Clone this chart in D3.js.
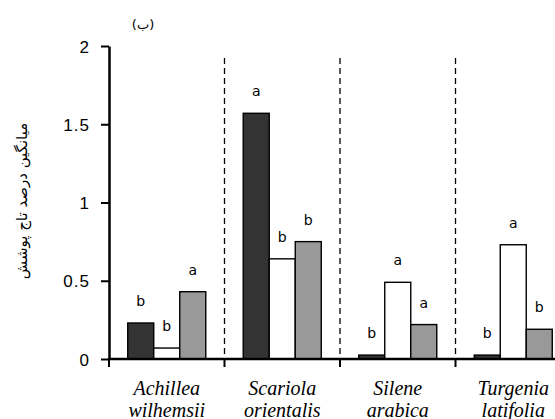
<!DOCTYPE html>
<html>
<head>
<meta charset="utf-8">
<script src="https://cdn.jsdelivr.net/npm/d3@7"></script>
<style>
  body { margin: 0; background: #fff; }
  svg { display: block; }
</style>
</head>
<body>
<div id="main"></div>
<script>
// data
const species = [
  ['Achillea', 'wilhemsii'],
  ['Scariola', 'orientalis'],
  ['Silene', 'arabica'],
  ['Turgenia', 'latifolia']
];
const series = ['s1', 's2', 's3'];
const s1Values = [0.23, 1.57, 0.025, 0.025];
const s2Values = [0.07, 0.64, 0.49, 0.73];
const s3Values = [0.43, 0.75, 0.22, 0.19];
const s1Letters = ['b', 'a', 'b', 'b'];
const s2Letters = ['b', 'b', 'a', 'a'];
const s3Letters = ['a', 'b', 'a', 'b'];
const yTicks = [0, 0.5, 1, 1.5, 2];
const yTickLabels = ['0', '0.5', '1', '1.5', '2'];
const yTitle = 'میانگین درصد تاج پوشش';
const panelTitle = '(ب)';

const W = 555;
const H = 419;
const PLOT = { left: 109, right: 571, top: 46, bottom: 359 };
const colors = { s1: '#333333', s2: '#ffffff', s3: '#999999' };

const svg = d3.select('#main').append('svg')
  .attr('width', W)
  .attr('height', H);

// scales
const x0 = d3.scaleBand()
  .domain(species.map((d) => d[0]))
  .range([PLOT.left, PLOT.right])
  .padding(0);

const x1 = d3.scaleBand()
  .domain(series)
  .range([0, x0.bandwidth()])
  .paddingInner(0)
  .paddingOuter(0.72);

const y = d3.scaleLinear()
  .domain([0, 2])
  .range([PLOT.bottom, PLOT.top]);

const values = { s1: s1Values, s2: s2Values, s3: s3Values };
const letters = { s1: s1Letters, s2: s2Letters, s3: s3Letters };

const records = [];
species.forEach((sp, i) => {
  series.forEach((s) => {
    records.push({ cat: sp[0], s, v: values[s][i], l: letters[s][i] });
  });
});

// dashed separators between species
const bounds = species.slice(1).map((d) => x0(d[0]));
svg.selectAll('.sep')
  .data(bounds)
  .enter()
  .append('line')
  .attr('class', 'sep')
  .attr('x1', (d) => d).attr('x2', (d) => d)
  .attr('y1', 58).attr('y2', PLOT.bottom)
  .attr('stroke', '#000')
  .attr('stroke-width', 1.3)
  .attr('stroke-dasharray', '6,4');

// bars
svg.selectAll('.bar')
  .data(records)
  .enter()
  .append('rect')
  .attr('class', 'bar')
  .attr('x', (d) => x0(d.cat) + x1(d.s))
  .attr('y', (d) => y(d.v))
  .attr('width', x1.bandwidth())
  .attr('height', (d) => y(0) - y(d.v))
  .attr('fill', (d) => colors[d.s])
  .attr('stroke', '#000')
  .attr('stroke-width', 1.4);

// significance letters
svg.selectAll('.letter')
  .data(records)
  .enter()
  .append('text')
  .attr('class', 'letter')
  .attr('x', (d) => x0(d.cat) + x1(d.s) + x1.bandwidth() / 2)
  .attr('y', (d) => y(d.v) - 17)
  .attr('text-anchor', 'middle')
  .style('font-family', 'DejaVu Sans, sans-serif')
  .style('font-size', '14px')
  .text((d) => d.l);

// y axis
const yAxis = svg.append('g')
  .attr('transform', `translate(${PLOT.left},0)`)
  .call(d3.axisLeft(y)
    .tickValues(yTicks)
    .tickFormat((d, i) => yTickLabels[i])
    .tickSize(8)
    .tickSizeOuter(0)
    .tickPadding(11));
yAxis.select('.domain').attr('stroke-width', 2.5);
yAxis.selectAll('.tick line').attr('stroke-width', 2);
yAxis.selectAll('.tick text')
  .style('font-family', 'Liberation Sans, Arial, sans-serif')
  .style('font-size', '17px')
  .style('letter-spacing', '1px')
  .attr('dy', '0.36em');

// x axis line and boundary ticks
svg.append('line')
  .attr('x1', PLOT.left - 1).attr('x2', W)
  .attr('y1', PLOT.bottom).attr('y2', PLOT.bottom)
  .attr('stroke', '#000')
  .attr('stroke-width', 2.5);

svg.selectAll('.xtick')
  .data(species.map((d) => x0(d[0])))
  .enter()
  .append('line')
  .attr('class', 'xtick')
  .attr('x1', (d) => d).attr('x2', (d) => d)
  .attr('y1', PLOT.bottom).attr('y2', PLOT.bottom + 8)
  .attr('stroke', '#000')
  .attr('stroke-width', 2);

// species names (second line is cut by the bottom edge, as in the source)
const catLabels = svg.selectAll('.cat')
  .data(species)
  .enter()
  .append('text')
  .attr('class', 'cat')
  .attr('text-anchor', 'middle')
  .style('font-family', 'Liberation Serif, Times New Roman, serif')
  .style('font-style', 'italic')
  .style('font-size', '20px');

catLabels.append('tspan')
  .attr('x', (d) => x0(d[0]) + x0.bandwidth() / 2)
  .attr('y', 395)
  .text((d) => d[0]);
catLabels.append('tspan')
  .attr('x', (d) => x0(d[0]) + x0.bandwidth() / 2)
  .attr('y', 417)
  .text((d) => d[1]);

// y title (Persian)
svg.append('text')
  .attr('transform', 'translate(27,201) rotate(-90)')
  .attr('text-anchor', 'middle')
  .style('font-family', 'DejaVu Sans, sans-serif')
  .style('font-size', '15px')
  .text(yTitle);

// panel title
svg.append('text')
  .attr('x', 143)
  .attr('y', 29)
  .attr('text-anchor', 'middle')
  .style('font-family', 'DejaVu Sans, sans-serif')
  .style('font-size', '13px')
  .style('letter-spacing', '2px')
  .text(panelTitle);
</script>
</body>
</html>
